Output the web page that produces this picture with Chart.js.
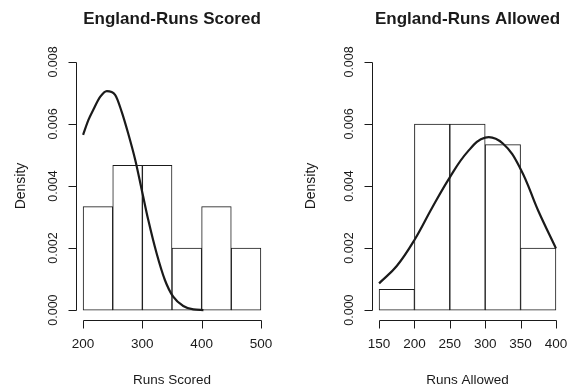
<!DOCTYPE html>
<html>
<head>
<meta charset="utf-8">
<script src="https://cdn.jsdelivr.net/npm/chart.js@4/dist/chart.umd.min.js"></script>
<style>
  html, body { margin: 0; padding: 0; background: #ffffff; }
  #wrap { position: relative; width: 579px; height: 388px; overflow: hidden; }
  canvas { position: absolute; top: 0; }
  #scored { left: 0; }
  #allowed { left: 290px; }
</style>
</head>
<body>
<div id="wrap">
  <canvas id="scored" width="290" height="388"></canvas>
  <canvas id="allowed" width="289" height="388"></canvas>
</div>
<script>
// ---- Runs scored: histogram bins (centres) and densities ----
const scoredBinCentres = [225, 275, 325, 375, 425, 475];
const scoredDensity = [0.003333, 0.004667, 0.004667, 0.002, 0.003333, 0.002];
// kernel density estimate of runs scored
const scoredCurveX = [200, 209, 217, 229, 240, 254, 265, 276, 288, 299, 310, 324, 338, 352, 369, 386, 403];
const scoredCurveY = [0.00565, 0.00613, 0.00645, 0.00688, 0.00706, 0.00694, 0.0064, 0.0057, 0.00484, 0.00387, 0.0029, 0.00183, 0.00097, 0.00043, 0.00013, 0.00002, 0.0];
const scoredXTicks = [200, 300, 400, 500];

// ---- Runs allowed: histogram bins (centres) and densities ----
const allowedBinCentres = [175, 225, 275, 325, 375];
const allowedDensity = [0.000667, 0.006, 0.006, 0.005333, 0.002];
// kernel density estimate of runs allowed
const allowedCurveX = [150, 175, 200, 225, 250, 275, 300, 325, 350, 375, 400];
const allowedCurveY = [0.00086, 0.00142, 0.00226, 0.0033, 0.00428, 0.0051, 0.00556, 0.00537, 0.00455, 0.0032, 0.00199];
const allowedXTicks = [150, 200, 250, 300, 350, 400];

// shared density axis
const densityTicks = [0, 0.002, 0.004, 0.006, 0.008];
const densityTickLabels = ['0.000', '0.002', '0.004', '0.006', '0.008'];

const INK = '#1a1a1a';
const FONT = '"Liberation Sans", Arial, Helvetica, sans-serif';

// R-style axes: lines span first..last tick, ticks point outward,
// density labels are rotated parallel to the axis.
const baseGraphicsAxes = {
  id: 'baseGraphicsAxes',
  afterDraw(chart, args, o) {
    const { ctx, chartArea: a } = chart;
    const xs = chart.scales.x, ys = chart.scales.y;
    ctx.save();
    ctx.strokeStyle = INK;
    ctx.fillStyle = INK;
    ctx.lineWidth = 1;

    // density axis
    const ax = Math.round(a.left) + 0.5;
    const yp = v => Math.round(ys.getPixelForValue(v)) + 0.5;
    ctx.beginPath();
    ctx.moveTo(ax, yp(densityTicks[0]));
    ctx.lineTo(ax, yp(densityTicks[densityTicks.length - 1]));
    densityTicks.forEach(v => { ctx.moveTo(ax, yp(v)); ctx.lineTo(ax - 8, yp(v)); });
    ctx.stroke();
    ctx.font = '12.5px ' + FONT;
    ctx.textAlign = 'center';
    ctx.textBaseline = 'middle';
    densityTicks.forEach((v, i) => {
      ctx.save();
      ctx.translate(ax - 23, ys.getPixelForValue(v));
      ctx.rotate(-Math.PI / 2);
      ctx.fillText(densityTickLabels[i], 0, 0);
      ctx.restore();
    });

    // runs axis
    const ay = Math.round(a.bottom) + 0.5;
    const xp = v => Math.round(xs.getPixelForValue(v)) + 0.5;
    const xt = o.xTicks;
    ctx.beginPath();
    ctx.moveTo(xp(xt[0]), ay);
    ctx.lineTo(xp(xt[xt.length - 1]), ay);
    xt.forEach(v => { ctx.moveTo(xp(v), ay); ctx.lineTo(xp(v), ay + 8); });
    ctx.stroke();
    ctx.font = '13.5px ' + FONT;
    xt.forEach(v => ctx.fillText(String(v), xs.getPixelForValue(v), ay + 24));

    // titles
    const cx = (a.left + a.right) / 2;
    ctx.font = 'bold 17px ' + FONT;
    ctx.fillText(o.title, cx, 19);
    ctx.font = '13.5px ' + FONT;
    ctx.fillText(o.xTitle, cx, 380);
    ctx.save();
    ctx.translate(21, (a.top + a.bottom) / 2);
    ctx.rotate(-Math.PI / 2);
    ctx.font = '14px ' + FONT;
    ctx.fillText('Density', 0, 0);
    ctx.restore();

    ctx.restore();
  }
};

function histogram(canvasId, cfg) {
  const curve = {
    type: 'line',
    data: cfg.curveX.map((x, i) => ({ x, y: cfg.curveY[i] })),
    borderColor: INK,
    borderWidth: 2.2,
    pointRadius: 0,
    fill: false,
    order: 0
  };
  if (cfg.monotone) curve.cubicInterpolationMode = 'monotone';
  else curve.tension = 0.4;

  return new Chart(document.getElementById(canvasId), {
    type: 'bar',
    data: {
      datasets: [
        curve,
        {
          type: 'bar',
          data: cfg.centres.map((x, i) => ({ x, y: cfg.density[i] })),
          backgroundColor: '#ffffff',
          borderColor: INK,
          borderWidth: 1,
          borderSkipped: false,
          barPercentage: 1,
          categoryPercentage: 1,
          order: 1
        }
      ]
    },
    options: {
      responsive: false,
      animation: false,
      devicePixelRatio: 1,
      layout: { padding: cfg.padding },
      scales: {
        x: {
          type: 'linear',
          offset: false,
          min: cfg.xMin,
          max: cfg.xMax,
          display: false,
          afterBuildTicks: s => { s.ticks = cfg.xTicks.map(v => ({ value: v })); }
        },
        y: {
          type: 'linear',
          min: -0.00032,
          max: 0.00832,
          display: false
        }
      },
      plugins: {
        legend: { display: false },
        tooltip: { enabled: false },
        baseGraphicsAxes: { title: cfg.title, xTitle: cfg.xTitle, xTicks: cfg.xTicks }
      }
    },
    plugins: [baseGraphicsAxes]
  });
}

histogram('scored', {
  title: 'England-Runs Scored',
  xTitle: 'Runs Scored',
  centres: scoredBinCentres,
  density: scoredDensity,
  curveX: scoredCurveX,
  curveY: scoredCurveY,
  xTicks: scoredXTicks,
  monotone: true,
  xMin: 188, xMax: 512,
  padding: { left: 76, right: 22, top: 52, bottom: 68 }
});

histogram('allowed', {
  title: 'England-Runs Allowed',
  xTitle: 'Runs Allowed',
  centres: allowedBinCentres,
  density: allowedDensity,
  curveX: allowedCurveX,
  curveY: allowedCurveY,
  xTicks: allowedXTicks,
  monotone: false,
  xMin: 140, xMax: 410,
  padding: { left: 82, right: 16, top: 52, bottom: 68 }
});
</script>
</body>
</html>
